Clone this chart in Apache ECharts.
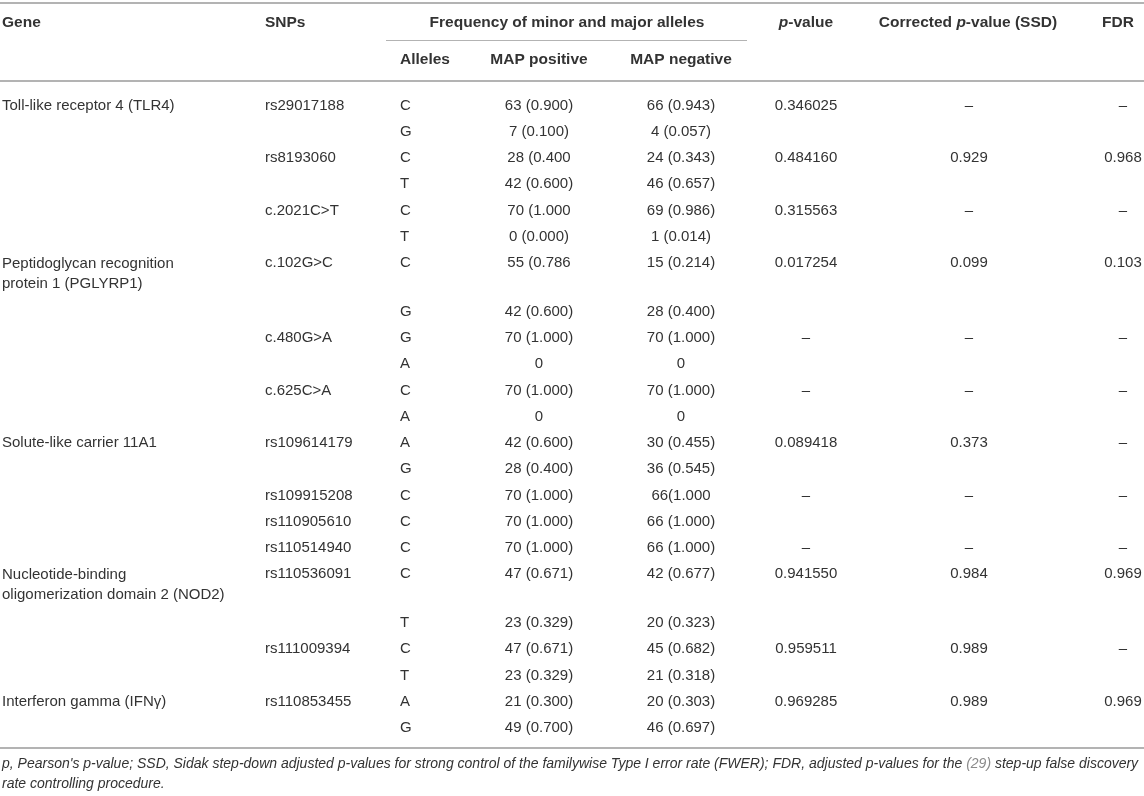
<!DOCTYPE html>
<html>
<head>
<meta charset="utf-8">
<script src="https://cdn.jsdelivr.net/npm/echarts@6/dist/echarts.min.js"></script>
<style>
  html, body { margin: 0; padding: 0; background: #fff; }
  #main { width: 1144px; height: 796px; }
</style>
</head>
<body>
<div id="main"></div>
<script>
'use strict';

// table content, one entry per body row
var genes = [
    'Toll-like receptor 4 (TLR4)', '', '', '', '', '',
    'Peptidoglycan recognition\nprotein 1 (PGLYRP1)', '', '', '', '', '',
    'Solute-like carrier 11A1', '', '', '', '',
    'Nucleotide-binding\noligomerization domain 2 (NOD2)', '', '', '',
    'Interferon gamma (IFNγ)', ''
];
var snps = [
    'rs29017188', '', 'rs8193060', '', 'c.2021C>T', '',
    'c.102G>C', '', 'c.480G>A', '', 'c.625C>A', '',
    'rs109614179', '', 'rs109915208', 'rs110905610', 'rs110514940',
    'rs110536091', '', 'rs111009394', '',
    'rs110853455', ''
];
var alleles = ['C', 'G', 'C', 'T', 'C', 'T', 'C', 'G', 'G', 'A', 'C', 'A',
    'A', 'G', 'C', 'C', 'C', 'C', 'T', 'C', 'T', 'A', 'G'];
var mapPositive = [
    '63 (0.900)', '7 (0.100)', '28 (0.400', '42 (0.600)', '70 (1.000', '0 (0.000)',
    '55 (0.786', '42 (0.600)', '70 (1.000)', '0', '70 (1.000)', '0',
    '42 (0.600)', '28 (0.400)', '70 (1.000)', '70 (1.000)', '70 (1.000)',
    '47 (0.671)', '23 (0.329)', '47 (0.671)', '23 (0.329)',
    '21 (0.300)', '49 (0.700)'
];
var mapNegative = [
    '66 (0.943)', '4 (0.057)', '24 (0.343)', '46 (0.657)', '69 (0.986)', '1 (0.014)',
    '15 (0.214)', '28 (0.400)', '70 (1.000)', '0', '70 (1.000)', '0',
    '30 (0.455)', '36 (0.545)', '66(1.000', '66 (1.000)', '66 (1.000)',
    '42 (0.677)', '20 (0.323)', '45 (0.682)', '21 (0.318)',
    '20 (0.303)', '46 (0.697)'
];
var pValues = [
    '0.346025', '', '0.484160', '', '0.315563', '',
    '0.017254', '', '–', '', '–', '',
    '0.089418', '', '–', '', '–',
    '0.941550', '', '0.959511', '',
    '0.969285', ''
];
var correctedP = [
    '–', '', '0.929', '', '–', '',
    '0.099', '', '–', '', '–', '',
    '0.373', '', '–', '', '–',
    '0.984', '', '0.989', '',
    '0.989', ''
];
var fdr = [
    '–', '', '0.968', '', '–', '',
    '0.103', '', '–', '', '–', '',
    '–', '', '–', '', '–',
    '0.969', '', '–', '',
    '0.969', ''
];
var headerTop = ['Gene', 'SNPs', 'Frequency of minor and major alleles',
    '{i|p}-value', 'Corrected {i|p}-value (SSD)', 'FDR'];
var headerSub = ['Alleles', 'MAP positive', 'MAP negative'];
var footnote = [
    'p, Pearson\'s p-value; SSD, Sidak step-down adjusted p-values for strong control of the familywise Type I error rate (FWER); FDR, adjusted p-values for the {ref|(29)} step-up false discovery',
    'rate controlling procedure.'
];

// layout
var W = 1144, H = 796;
var firstRowY = 105.5, rowStep = 26.25, wrapExtra = 22.5;
var textColor = '#333';
var font = 'Liberation Sans, Arial, sans-serif';

// body row positions, a wrapped gene name pushes the next row down
var rowY = [];
var y = firstRowY;
for (var i = 0; i < alleles.length; i++) {
    rowY.push(y);
    y += rowStep;
    if (genes[i].indexOf('\n') >= 0) y += wrapExtra;
}

var columns = [
    { values: genes, x: 2, align: 'left' },
    { values: snps, x: 265, align: 'left' },
    { values: alleles, x: 400, align: 'left' },
    { values: mapPositive, x: 539, align: 'center' },
    { values: mapNegative, x: 681, align: 'center' },
    { values: pValues, x: 806, align: 'center' },
    { values: correctedP, x: 969, align: 'center' },
    { values: fdr, x: 1123, align: 'center' }
];

var cells = [];
columns.forEach(function (col) {
    col.values.forEach(function (v, r) {
        if (v === '') return;
        var multi = v.indexOf('\n') >= 0;
        cells.push({ x: col.x, y: rowY[r], text: v, align: col.align,
            vAlign: multi ? 'top' : 'middle', shiftY: multi ? -9 : 0 });
    });
});

var headerTopX = [2, 265, 567, 806, 968, 1118];
var headerTopAlign = ['left', 'left', 'center', 'center', 'center', 'center'];
headerTop.forEach(function (t, k) {
    cells.push({ x: headerTopX[k], y: 23, text: t, align: headerTopAlign[k], bold: true });
});
var headerSubX = [400, 539, 681];
var headerSubAlign = ['left', 'center', 'center'];
headerSub.forEach(function (t, k) {
    cells.push({ x: headerSubX[k], y: 60, text: t, align: headerSubAlign[k], bold: true });
});
footnote.forEach(function (t, k) {
    cells.push({ x: 2, y: 764 + k * 20, text: t, align: 'left', italic: true, small: true });
});

var chart = echarts.init(document.getElementById('main'), null, { renderer: 'canvas' });

var option = {
    backgroundColor: '#fff',
    animation: false,
    grid: { left: 0, right: 0, top: 0, bottom: 0 },
    xAxis: { type: 'value', min: 0, max: W, show: false },
    yAxis: { type: 'value', min: 0, max: H, inverse: true, show: false },
    series: [
        {
            type: 'custom',
            data: cells.map(function (c) { return [c.x, c.y]; }),
            renderItem: function (params, api) {
                var c = cells[params.dataIndex];
                var p = api.coord([api.value(0), api.value(1)]);
                var size = c.small ? 14 : (c.bold ? 15.5 : 15);
                return {
                    type: 'text',
                    x: p[0],
                    y: p[1] + (c.shiftY || 0),
                    style: {
                        text: c.text,
                        fill: textColor,
                        fontFamily: font,
                        fontSize: size,
                        fontWeight: c.bold ? 'bold' : 'normal',
                        fontStyle: c.italic ? 'italic' : 'normal',
                        lineHeight: 20,
                        align: c.align,
                        verticalAlign: c.vAlign || 'middle',
                        rich: {
                            i: { fontStyle: 'italic', fontWeight: 'bold', fontSize: size,
                                fill: textColor, fontFamily: font },
                            ref: { fontStyle: 'italic', fontSize: size, fill: '#8a8a8a',
                                fontFamily: font }
                        }
                    }
                };
            },
            markLine: {
                silent: true,
                symbol: 'none',
                label: { show: false },
                lineStyle: { color: '#b3b3b3', type: 'solid', width: 2 },
                data: [
                    [{ coord: [0, 3] }, { coord: [W, 3] }],
                    [{ coord: [0, 81] }, { coord: [W, 81] }],
                    [{ coord: [0, 748] }, { coord: [W, 748] }],
                    [{ coord: [386, 40], lineStyle: { width: 1.2 } }, { coord: [747, 40] }]
                ]
            }
        }
    ]
};
chart.setOption(option);
</script>
</body>
</html>
